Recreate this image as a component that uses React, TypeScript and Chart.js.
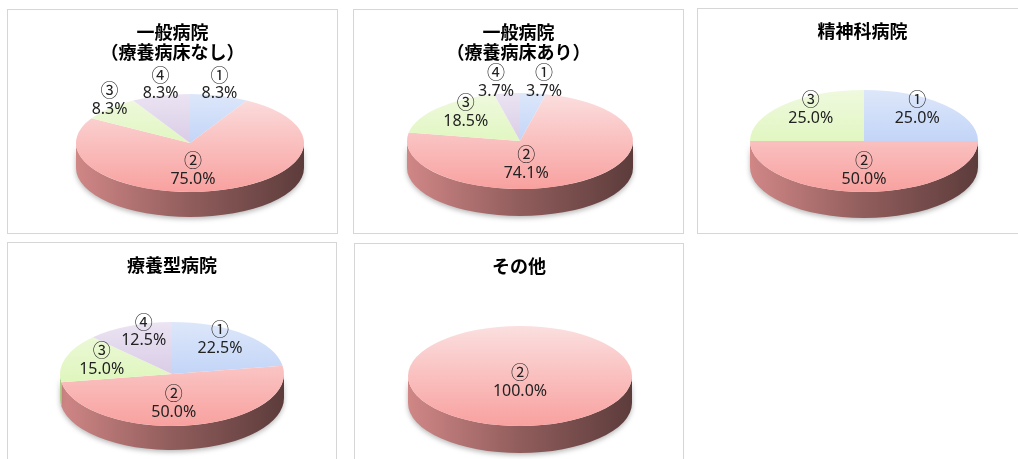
import React, { useEffect, useRef } from 'react';
import { Chart, registerables } from 'chart.js';

Chart.register(...registerables);

// ---- data ----
const categories = ['①', '②', '③', '④'];
const generalNoLtc = [8.3, 75.0, 8.3, 8.3];
const generalWithLtc = [3.7, 74.1, 18.5, 3.7];
const psychiatric = [25.0, 50.0, 25.0, 0];
const longTermCare = [22.5, 50.0, 15.0, 12.5];
const others = [0, 100.0, 0, 0];

const titleGeneralNoLtc = ['一般病院', '（療養病床なし）'];
const titleGeneralWithLtc = ['一般病院', '（療養病床あり）'];
const titlePsychiatric = '精神科病院';
const titleLongTermCare = '療養型病院';
const titleOthers = 'その他';

// ---- styles ----
const topLight = ['#dde7fa', '#fbdfdf', '#eff9de', '#ebe4f2'];
const topDark = ['#a8c2f4', '#f8a19f', '#d3f4a5', '#c8b4dc'];

function hexToRgb(h: string) {
  const n = parseInt(h.slice(1), 16);
  return [(n >> 16) & 255, (n >> 8) & 255, n & 255];
}
function shade(h: string, f: number) {
  const [r, g, b] = hexToRgb(h);
  return `rgb(${Math.round(r * f)},${Math.round(g * f)},${Math.round(b * f)})`;
}

const pie3d = {
  id: 'pie3d',
  beforeDatasetsDraw(chart: any, _args: any, opts: any) {
    const meta = chart.getDatasetMeta(0);
    const arcs = meta.data;
    if (!arcs.length) return;
    const { x, y, outerRadius: r } = arcs[0];
    const { cx, cy, rx, ry, depth } = opts;
    const ctx = chart.ctx;
    // side walls (front half)
    arcs.forEach((arc: any, i: number) => {
      const s = Math.max(arc.startAngle, 0);
      const e = Math.min(arc.endAngle, Math.PI);
      if (e <= s) return;
      ctx.save();
      ctx.shadowColor = 'rgba(0,0,0,0.28)';
      ctx.shadowBlur = 5;
      ctx.shadowOffsetY = 2;
      const g = ctx.createLinearGradient(cx - rx, 0, cx + rx, 0);
      g.addColorStop(0, shade(topDark[i], 0.84));
      g.addColorStop(0.5, shade(topDark[i], 0.58));
      g.addColorStop(1, shade(topDark[i], 0.37));
      ctx.fillStyle = g;
      ctx.beginPath();
      ctx.ellipse(cx, cy, rx, ry, 0, s, e, false);
      ctx.ellipse(cx, cy + depth, rx, ry, 0, e, s, true);
      ctx.closePath();
      ctx.fill();
      ctx.restore();
    });
    ctx.save();
    ctx.translate(cx, cy);
    ctx.scale(rx / r, ry / r);
    ctx.translate(-x, -y);
  },
  afterDatasetsDraw(chart: any, _args: any, opts: any) {
    const ctx = chart.ctx;
    ctx.restore();
    const meta = chart.getDatasetMeta(0);
    const { cx, cy, rx, ry } = opts;
    const values = chart.data.datasets[0].data;
    meta.data.forEach((arc: any, i: number) => {
      const v = values[i];
      if (!v) return;
      const frac = (arc.endAngle - arc.startAngle) / (2 * Math.PI);
      const mid = (arc.startAngle + arc.endAngle) / 2;
      let dx: number, dy: number;
      if (frac > 0.99) {
        dx = 0;
        dy = ry * 0.1;
      } else if (frac >= 0.45) {
        dx = Math.cos(mid) * rx * 0.1;
        dy = Math.sin(mid) * ry * 0.55;
      } else if (frac < 0.1) {
        const c = Math.cos(mid);
        dx = Math.sign(c) * Math.max(Math.abs(c) * rx, 24);
        dy = Math.sin(mid) * ry * 1.25;
      } else {
        dx = Math.cos(mid) * rx * 0.66;
        dy = Math.sin(mid) * ry * 0.9;
      }
      const px = cx + dx;
      const py = cy + dy;
      ctx.save();
      ctx.fillStyle = '#222';
      ctx.textAlign = 'center';
      ctx.textBaseline = 'middle';
      ctx.font = '18px "Noto Sans CJK JP", sans-serif';
      ctx.fillText(chart.data.labels[i], px, py - 9);
      ctx.font = '16px "Noto Sans", "Noto Sans CJK JP", sans-serif';
      ctx.fillText(v.toFixed(1) + '%', px, py + 10);
      ctx.restore();
    });
  },
};

type Panel = {
  left: number;
  top: number;
  width: number;
  height: number;
  title: string | string[];
  values: number[];
  pie: { cx: number; cy: number; rx: number; ry: number; depth: number };
};

const panels: Panel[] = [
  { left: 7, top: 9, width: 331, height: 225, title: titleGeneralNoLtc, values: generalNoLtc,
    pie: { cx: 182, cy: 133, rx: 114, ry: 49, depth: 25 } },
  { left: 353, top: 9, width: 331, height: 225, title: titleGeneralWithLtc, values: generalWithLtc,
    pie: { cx: 166, cy: 131, rx: 113, ry: 48, depth: 27 } },
  { left: 697, top: 8, width: 331, height: 226, title: titlePsychiatric, values: psychiatric,
    pie: { cx: 166, cy: 132, rx: 114, ry: 51, depth: 26 } },
  { left: 7, top: 242, width: 330, height: 240, title: titleLongTermCare, values: longTermCare,
    pie: { cx: 164, cy: 131, rx: 112, ry: 52, depth: 24 } },
  { left: 354, top: 243, width: 330, height: 240, title: titleOthers, values: others,
    pie: { cx: 165, cy: 132, rx: 112, ry: 50, depth: 27 } },
];

function PiePanel({ p }: { p: Panel }) {
  const ref = useRef<HTMLCanvasElement>(null);
  useEffect(() => {
    const chart = new Chart(ref.current as HTMLCanvasElement, {
      type: 'pie',
      data: {
        labels: categories,
        datasets: [
          {
            data: p.values,
            borderWidth: 0,
            backgroundColor: (c: any) => {
              const ch = c.chart;
              const a = ch.chartArea;
              const i = c.dataIndex ?? 0;
              if (!a) return topDark[i];
              const my = (a.top + a.bottom) / 2;
              const r = Math.min(a.right - a.left, a.bottom - a.top) / 2;
              const g = ch.ctx.createLinearGradient(0, my - r, 0, my + r);
              g.addColorStop(0, topLight[i]);
              g.addColorStop(1, topDark[i]);
              return g;
            },
          },
        ],
      },
      options: {
        responsive: false,
        animation: false,
        events: [],
        layout: { padding: 0 },
        plugins: {
          legend: { display: false },
          tooltip: { enabled: false },
          title: {
            display: true,
            text: p.title,
            color: '#000',
            font: { family: '"Noto Sans CJK JP", sans-serif', size: 18, weight: 'bold', lineHeight: 1.12 },
            padding: { top: 12, bottom: 4 },
          },
          pie3d: p.pie,
        } as any,
      },
      plugins: [pie3d],
    });
    return () => chart.destroy();
  }, []);
  return (
    <div
      style={{
        position: 'absolute',
        left: p.left,
        top: p.top,
        width: p.width,
        height: p.height,
        border: '1px solid #d6d6d6',
        boxSizing: 'border-box',
        background: '#fff',
      }}
    >
      <canvas ref={ref} width={p.width - 2} height={p.height - 2} style={{ display: 'block' }} />
    </div>
  );
}

export default function App() {
  return (
    <div
      style={{
        position: 'fixed',
        left: 0,
        top: 0,
        width: 1018,
        height: 459,
        overflow: 'hidden',
        background: '#fff',
      }}
    >
      {panels.map((p, i) => (
        <PiePanel key={i} p={p} />
      ))}
    </div>
  );
}
